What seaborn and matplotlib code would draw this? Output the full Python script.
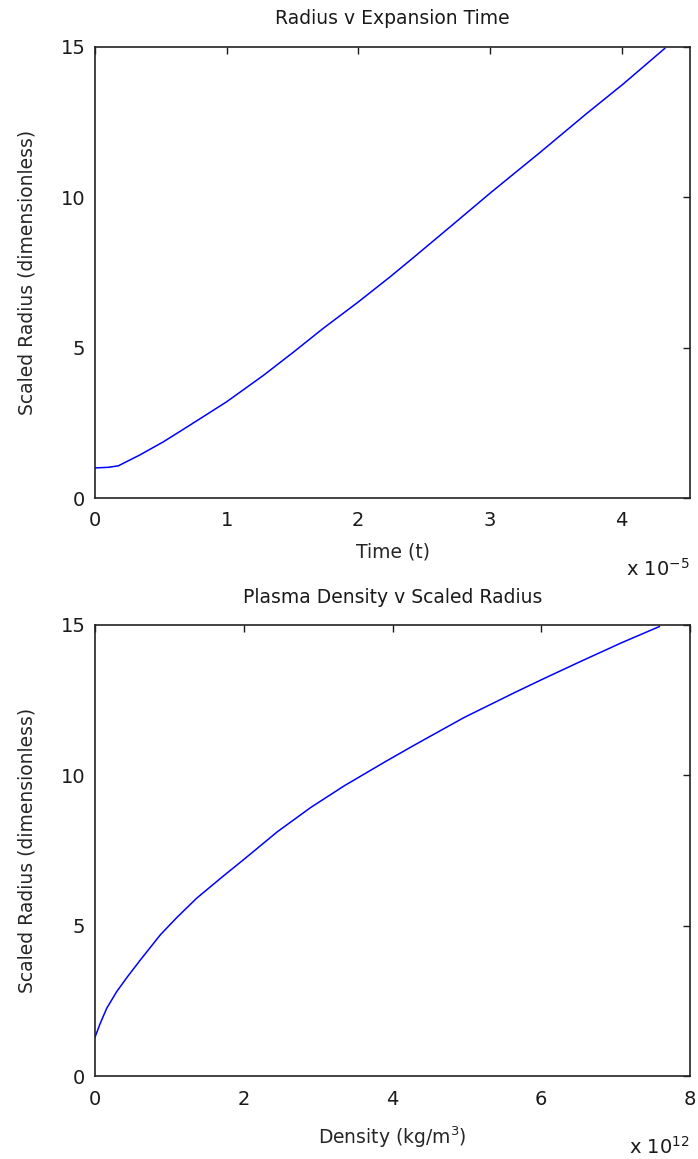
import numpy as np
import pandas as pd
import matplotlib
matplotlib.use("Agg")
import matplotlib.pyplot as plt
import seaborn as sns

# Top panel: scaled radius vs expansion time (time in units of 1e-5)
time_e5 = [0.0, 0.10, 0.177, 0.34, 0.52, 0.72, 1.0, 1.28, 1.51, 1.73, 2.0, 2.24,
           2.42, 2.72, 3.01, 3.38, 3.73, 4.01, 4.33]
radius_t = [1.0, 1.02, 1.07, 1.43, 1.87, 2.42, 3.2, 4.08, 4.86, 5.63, 6.52, 7.35,
            8.0, 9.1, 10.17, 11.49, 12.77, 13.76, 14.96]

# Bottom panel: scaled radius vs plasma density (density in units of 1e12)
density_e12 = [0.0, 0.067, 0.157, 0.29, 0.43, 0.61, 0.88, 1.1, 1.37, 1.73, 2.0,
               2.45, 2.9, 3.35, 3.9, 4.29, 4.96, 5.64, 6.02, 6.54, 7.08, 7.59]
radius_d = [1.29, 1.73, 2.25, 2.8, 3.28, 3.86, 4.7, 5.27, 5.92, 6.66, 7.2,
            8.12, 8.93, 9.65, 10.45, 11.0, 11.92, 12.75, 13.2, 13.8, 14.41, 14.95]

top_xticks = [0, 1, 2, 3, 4]
bottom_xticks = [0, 2, 4, 6, 8]
yticks = [0, 5, 10, 15]

sns.set_style("white")
plt.rcParams['font.family'] = ['DejaVu Sans']
plt.rcParams['text.color'] = '#1a1a1a'

fig = plt.figure(figsize=(6.98, 11.59), dpi=100)
W, H = 698, 1159
ax1 = fig.add_axes([95 / W, 1 - 498 / H, 595 / W, 451 / H])
ax2 = fig.add_axes([95 / W, 1 - 1076 / H, 595 / W, 451 / H])

df1 = pd.DataFrame({"t": time_e5, "r": radius_t})
df2 = pd.DataFrame({"d": density_e12, "r": radius_d})

sns.lineplot(data=df1, x="t", y="r", ax=ax1, color=(0, 0, 1), linewidth=1.1)
sns.lineplot(data=df2, x="d", y="r", ax=ax2, color=(0, 0, 1), linewidth=1.1)

AXH = 451.0
AXW = 595.0

def style(ax, xlim, xticks, xlabel, title, exp, xlab_off, tpad):
    ax.set_xlim(*xlim)
    ax.set_ylim(0, 15)
    ax.set_xticks(xticks)
    ax.set_yticks(yticks)
    ax.tick_params(direction="in", top=True, right=True, length=5, width=1,
                   labelsize=14, colors="#1a1a1a")
    ax.tick_params(axis="x", pad=tpad)
    ax.tick_params(axis="y", pad=7)
    for s in ax.spines.values():
        s.set_color("#222222")
        s.set_linewidth(1.2)
    ax.set_xlabel(xlabel, fontsize=13.5, va="center")
    ax.xaxis.set_label_coords(0.5, -xlab_off / AXH)
    ax.set_ylabel("Scaled Radius (dimensionless)", fontsize=13.5, va="center")
    ax.yaxis.set_label_coords(-(95 - 27) / AXW, 0.5)
    ax.set_title(title, fontsize=13.5, y=1 + 28 / AXH, va="center", pad=0)
    ax.text(1.0, -71 / AXH, r"x 10$^{%s}$" % exp, transform=ax.transAxes,
            ha="right", va="center", fontsize=14)

style(ax1, (0, 4.52), top_xticks, "Time (t)", "Radius v Expansion Time", "-5", 54, 9)
style(ax2, (0, 8), bottom_xticks, r"Density (kg/m$^3$)", "Plasma Density v Scaled Radius", "12", 61, 10)

fig.savefig("out.png", dpi=100, facecolor="white")
